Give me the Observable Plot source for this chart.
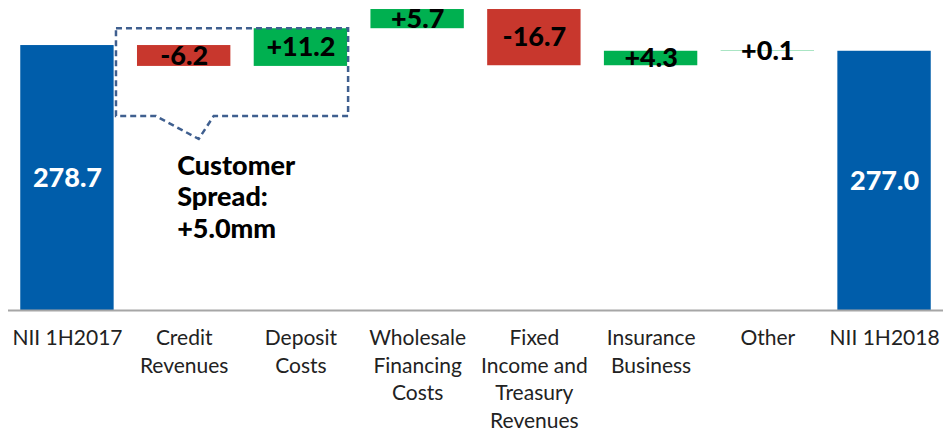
<!DOCTYPE html>
<html>
<head>
<meta charset="utf-8">
<script src="https://cdn.jsdelivr.net/npm/d3@7"></script>
<script src="https://cdn.jsdelivr.net/npm/@observablehq/plot@0.6"></script>
<style>
  html, body { margin: 0; padding: 0; background: #fff; }
  #chart { width: 943px; height: 433px; }
</style>
</head>
<body>
<div id="chart"></div>
<script>
// ---- data ----
const categories = ["NII 1H2017", "Credit Revenues", "Deposit Costs", "Wholesale Financing Costs",
  "Fixed Income and Treasury Revenues", "Insurance Business", "Other", "NII 1H2018"];
const tickLabels = ["NII 1H2017", "Credit\nRevenues", "Deposit\nCosts", "Wholesale\nFinancing\nCosts",
  "Fixed\nIncome and\nTreasury\nRevenues", "Insurance\nBusiness", "Other", "NII 1H2018"];
const values = [278.7, -6.2, 11.2, 5.7, -16.7, 4.3, 0.1, 277.0];
const kinds = ["total", "delta", "delta", "delta", "delta", "delta", "delta", "total"];
const calloutText = "Customer\nSpread:\n+5.0mm";
const calloutRange = {from: "Credit Revenues", to: "Deposit Costs", top: 283.7, bottom: 257.6, tip: 250.8};

// ---- build waterfall table ----
let running = 0;
const rows = categories.map((c, i) => {
  let y1, y2;
  if (kinds[i] === "total") { y1 = 0; y2 = values[i]; running = values[i]; }
  else { y1 = running; y2 = running + values[i]; running = y2; }
  return {
    cat: c, y1, y2, kind: kinds[i], v: values[i],
    label: kinds[i] === "total" ? values[i].toFixed(1) : (values[i] > 0 ? "+" : "") + values[i].toFixed(1),
    mid: kinds[i] === "total" ? (200 + y2) / 2 : (y1 + y2) / 2
  };
});
const colorOf = d => d.kind === "total" ? "#005DAA" : (d.v < 0 ? "#C8372D" : "#00B050");
const labelMap = new Map(categories.map((c, i) => [c, tickLabels[i]]));

const FONT = "Lato, 'Noto Sans', sans-serif";

const callout = (index, scales, values, dims) => {
  const x = scales.x, y = scales.y, bw = x.bandwidth();
  const left = x(calloutRange.from) - bw * 0.225;
  const right = x(calloutRange.to) + bw + 1;
  const top = y(calloutRange.top), bottom = y(calloutRange.bottom);
  const cx = x(calloutRange.from) + bw / 2;
  const p = `M${left},${top}H${right}V${bottom}H${cx + 30}L${cx + 15},${y(calloutRange.tip)}L${left + 40},${bottom}H${left}Z`;
  const g = d3.create("svg:g");
  g.append("path").attr("d", p).attr("fill", "none").attr("stroke", "#3F5F8F")
    .attr("stroke-width", 2.5).attr("stroke-dasharray", "6,4");
  return g.node();
};

const chart = Plot.plot({
  width: 943,
  height: 433,
  marginLeft: 8,
  marginRight: 0,
  marginTop: 7,
  marginBottom: 123,
  style: {fontFamily: FONT, background: "#fff"},
  x: {domain: categories, paddingInner: 0.2, paddingOuter: 0.105, round: false, axis: null, label: null},
  y: {domain: [200, 290], axis: null},
  marks: [
    Plot.barY(rows, {x: "cat", y1: "y1", y2: "y2", fill: colorOf, clip: true}),
    Plot.ruleY([200], {stroke: "#A6A6A6", strokeWidth: 2}),
    callout,
    Plot.text(rows, {x: "cat", y: "mid", text: "label",
      fill: d => d.kind === "total" ? "#fff" : "#000",
      fontSize: 27, fontWeight: 900}),
    Plot.text([calloutText], {x: () => calloutRange.from, y: () => 234, text: d => d,
      textAnchor: "start", dx: -7, fontSize: 27, fontWeight: 900, lineHeight: 1.17, fill: "#000"}),
    Plot.axisX({tickSize: 0, tickPadding: 15, fontSize: 21, lineHeight: 1.31, fill: "#222",
      label: null, tickFormat: d => labelMap.get(d)})
  ]
});
document.getElementById("chart").append(chart);
</script>
</body>
</html>
